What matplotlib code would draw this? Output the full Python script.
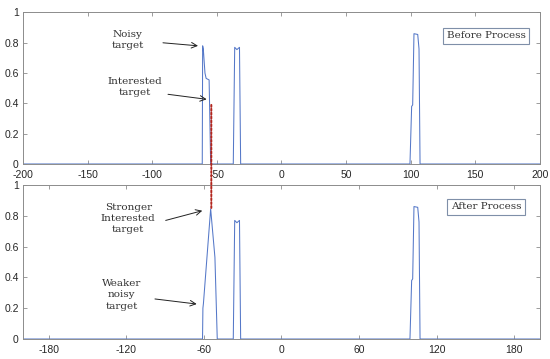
import matplotlib
matplotlib.use("Agg")
import matplotlib.pyplot as plt
from matplotlib.patches import ConnectionPatch

# ---- data ----
top_x = [-200, -61.3, -61.0, -60.5, -59.2, -58.3, -56.0, -55.7, -54.8,
         -37.3, -36.2, -34.5, -32.5, -31.6,
         99.4, 100.7, 101.5, 102.5, 105.4, 106.4, 107.2, 200]
top_y = [0, 0, 0.78, 0.76, 0.60, 0.565, 0.555, 0.42, 0,
         0, 0.77, 0.755, 0.77, 0,
         0, 0.38, 0.39, 0.86, 0.855, 0.76, 0, 0]

bot_x = [-200, -61.1, -60.8, -60.4, -54.8, -53.5, -51.5, -49.7,
         -37.3, -36.2, -34.5, -32.5, -31.6,
         99.4, 100.7, 101.5, 102.5, 105.4, 106.4, 107.2, 200]
bot_y = [0, 0, 0.20, 0.23, 0.845, 0.72, 0.53, 0,
         0, 0.77, 0.755, 0.77, 0,
         0, 0.38, 0.39, 0.86, 0.855, 0.76, 0, 0]

top_xticks = [-200, -150, -100, -50, 0, 50, 100, 150, 200]
bot_xticks = [-180, -120, -60, 0, 60, 120, 180]
yticks = [0, 0.2, 0.4, 0.6, 0.8, 1]
ytick_labels = ["0", "0.2", "0.4", "0.6", "0.8", "1"]

marker_x = -54.3
marker_top_y = 0.39
marker_bot_y = 0.845

line_color = "#5578c8"
edge_color = "#8c8c8c"
text_color = "#333333"
serif = ["DejaVu Serif"]

plt.rcParams["font.family"] = ["Liberation Sans", "DejaVu Sans"]

fig = plt.figure(figsize=(5.5, 3.59), dpi=100)
ax1 = fig.add_axes([0.0418, 0.5432, 0.94, 0.422])
ax2 = fig.add_axes([0.0418, 0.0557, 0.94, 0.429])

def style(ax, xticks):
    ax.set_xlim(-200, 200)
    ax.set_ylim(0, 1)
    ax.set_xticks(xticks)
    ax.set_xticklabels([str(t) for t in xticks])
    ax.set_yticks(yticks)
    ax.set_yticklabels(ytick_labels)
    ax.tick_params(direction="in", length=3, width=0.6, color=edge_color,
                   labelsize=7.5, labelcolor="#262626", top=True, right=True)
    ax.tick_params(axis="x", pad=4.5)
    ax.tick_params(axis="y", pad=3)
    for s in ax.spines.values():
        s.set_color(edge_color)
        s.set_linewidth(0.7)

ax1.plot(top_x, top_y, color=line_color, lw=0.75)
ax2.plot(bot_x, bot_y, color=line_color, lw=0.75)
style(ax1, top_xticks)
style(ax2, bot_xticks)

arrow = dict(arrowstyle="->", color="#222222", lw=0.7, shrinkA=0, shrinkB=0)

ax1.annotate("", xy=(-64.6, 0.78), xytext=(-91.7, 0.80), arrowprops=arrow)
ax1.text(-118.8, 0.82, "Noisy\ntarget", ha="center", va="center",
         family=serif, fontsize=7.5, color=text_color, linespacing=1.3)
ax1.annotate("", xy=(-57.9, 0.427), xytext=(-87.8, 0.46), arrowprops=arrow)
ax1.text(-113.3, 0.51, "Interested\ntarget", ha="center", va="center",
         family=serif, fontsize=7.5, color=text_color, linespacing=1.3)

ax2.annotate("", xy=(-61.3, 0.833), xytext=(-89.6, 0.77), arrowprops=arrow)
ax2.text(-118.5, 0.78, "Stronger\nInterested\ntarget", ha="center", va="center",
         family=serif, fontsize=7.5, color=text_color, linespacing=1.3)
ax2.annotate("", xy=(-65.6, 0.227), xytext=(-97.9, 0.26), arrowprops=arrow)
ax2.text(-123.6, 0.286, "Weaker\nnoisy\ntarget", ha="center", va="center",
         family=serif, fontsize=7.5, color=text_color, linespacing=1.3)

box = dict(boxstyle="square,pad=0.35", facecolor="white", edgecolor="#7f8fa8", lw=0.8)
fig.text(486 / 550, 1 - 35.7 / 359, "Before Process", ha="center", va="center",
         family=serif, fontsize=7.5, color=text_color, bbox=box)
fig.text(486 / 550, 1 - 207 / 359, "After Process", ha="center", va="center",
         family=serif, fontsize=7.5, color=text_color, bbox=box)

con = ConnectionPatch(xyA=(marker_x, marker_top_y), coordsA=ax1.transData,
                      xyB=(marker_x, marker_bot_y), coordsB=ax2.transData,
                      color="#b3261e", lw=1.4, linestyle=(0, (1, 1)))
fig.add_artist(con)

fig.savefig("out.png", dpi=100)
